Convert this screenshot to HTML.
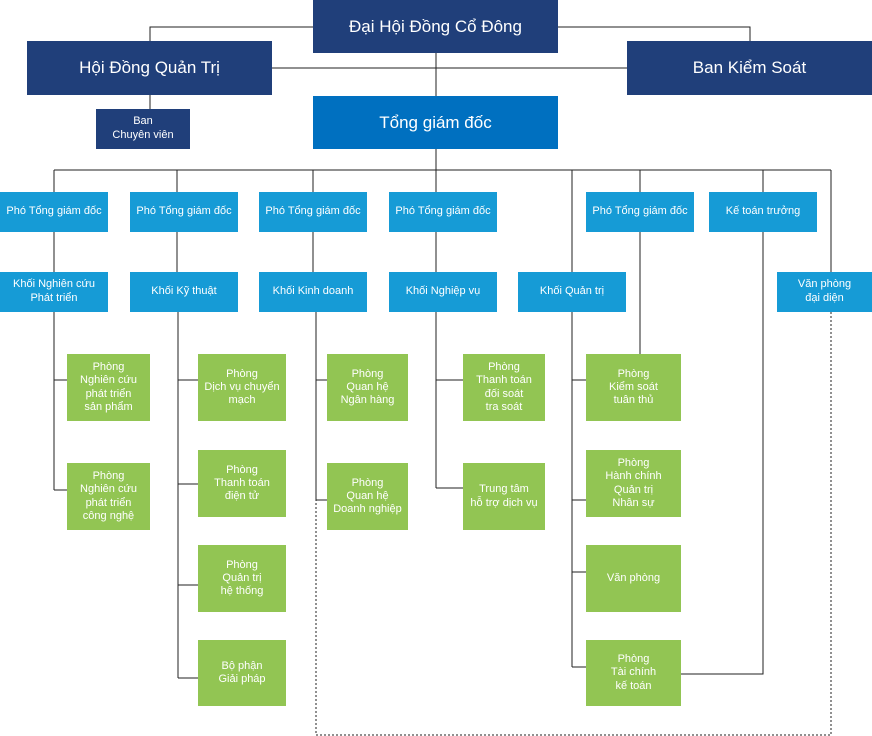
<!DOCTYPE html>
<html><head><meta charset="utf-8"><style>
body{margin:0;width:872px;height:736px;position:relative;background:#fff;font-family:"Liberation Sans",sans-serif;overflow:hidden}
.b{position:absolute;display:flex;align-items:center;justify-content:center;text-align:center;color:#fff;box-sizing:border-box;line-height:1.25}
.n{background:#203f7a;font-size:17px}
.t{background:#0070c0;font-size:17px}
.c{background:#169bd6;font-size:11px}
.g{background:#92c553;font-size:11px;line-height:1.2}
svg{position:absolute;left:0;top:0}
</style></head><body>
<svg width="872" height="736">
<g stroke="#222" stroke-width="1" fill="none">
<path d="M313 27H150V41M558 27H750V41M272 68H627M436 53V96M150 95V109M436 149V170M54 170H831"/>
<path d="M54 170V192M177 170V192M313 170V192M436 170V192M572 170V272M640 170V192M763 170V192M831 170V272"/>
<path d="M54 232V272M177 232V272M313 232V272M436 232V272M640 232V354"/>
<path d="M54 312V490M54 380H67M54 490H67"/>
<path d="M178 312V678M178 380H198M178 484H198M178 585H198M178 678H198"/>
<path d="M316 312V500M316 380H327M316 500H327"/>
<path d="M436 312V488M436 380H463M436 488H463"/>
<path d="M572 312V667M572 380H586M572 500H586M572 572H586M572 667H586"/>
<path d="M763 232V674H681"/>
<path d="M831 312V735H316V500" stroke-dasharray="2,2"/>
</g></svg>
<div class="b n" style="left:313px;top:0;width:245px;height:53px">Đại Hội Đồng Cổ Đông</div>
<div class="b n" style="left:27px;top:41px;width:245px;height:54px">Hội Đồng Quản Trị</div>
<div class="b n" style="left:627px;top:41px;width:245px;height:54px">Ban Kiểm Soát</div>
<div class="b n" style="left:96px;top:109px;width:94px;height:40px;font-size:11px">Ban<br>Chuyên viên</div>
<div class="b t" style="left:313px;top:96px;width:245px;height:53px">Tổng giám đốc</div>

<div class="b c" style="left:0;top:192px;width:108px;height:40px">Phó Tổng giám đốc</div>
<div class="b c" style="left:130px;top:192px;width:108px;height:40px">Phó Tổng giám đốc</div>
<div class="b c" style="left:259px;top:192px;width:108px;height:40px">Phó Tổng giám đốc</div>
<div class="b c" style="left:389px;top:192px;width:108px;height:40px">Phó Tổng giám đốc</div>
<div class="b c" style="left:586px;top:192px;width:108px;height:40px">Phó Tổng giám đốc</div>
<div class="b c" style="left:709px;top:192px;width:108px;height:40px">Kế toán trưởng</div>

<div class="b c" style="left:0;top:272px;width:108px;height:40px">Khối Nghiên cứu<br>Phát triển</div>
<div class="b c" style="left:130px;top:272px;width:108px;height:40px">Khối Kỹ thuật</div>
<div class="b c" style="left:259px;top:272px;width:108px;height:40px">Khối Kinh doanh</div>
<div class="b c" style="left:389px;top:272px;width:108px;height:40px">Khối Nghiệp vụ</div>
<div class="b c" style="left:518px;top:272px;width:108px;height:40px">Khối Quản trị</div>
<div class="b c" style="left:777px;top:272px;width:95px;height:40px">Văn phòng<br>đại diện</div>

<div class="b g" style="left:67px;top:354px;width:83px;height:67px">Phòng<br>Nghiên cứu<br>phát triển<br>sản phẩm</div>
<div class="b g" style="left:67px;top:463px;width:83px;height:67px">Phòng<br>Nghiên cứu<br>phát triển<br>công nghệ</div>

<div class="b g" style="left:198px;top:354px;width:88px;height:67px">Phòng<br>Dịch vụ chuyển<br>mạch</div>
<div class="b g" style="left:198px;top:450px;width:88px;height:67px">Phòng<br>Thanh toán<br>điện tử</div>
<div class="b g" style="left:198px;top:545px;width:88px;height:67px">Phòng<br>Quản trị<br>hệ thống</div>
<div class="b g" style="left:198px;top:640px;width:88px;height:66px">Bộ phận<br>Giải pháp</div>

<div class="b g" style="left:327px;top:354px;width:81px;height:67px">Phòng<br>Quan hệ<br>Ngân hàng</div>
<div class="b g" style="left:327px;top:463px;width:81px;height:67px">Phòng<br>Quan hệ<br>Doanh nghiệp</div>

<div class="b g" style="left:463px;top:354px;width:82px;height:67px">Phòng<br>Thanh toán<br>đối soát<br>tra soát</div>
<div class="b g" style="left:463px;top:463px;width:82px;height:67px">Trung tâm<br>hỗ trợ dịch vụ</div>

<div class="b g" style="left:586px;top:354px;width:95px;height:67px">Phòng<br>Kiểm soát<br>tuân thủ</div>
<div class="b g" style="left:586px;top:450px;width:95px;height:67px">Phòng<br>Hành chính<br>Quản trị<br>Nhân sự</div>
<div class="b g" style="left:586px;top:545px;width:95px;height:67px">Văn phòng</div>
<div class="b g" style="left:586px;top:640px;width:95px;height:66px">Phòng<br>Tài chính<br>kế toán</div>
</body></html>
